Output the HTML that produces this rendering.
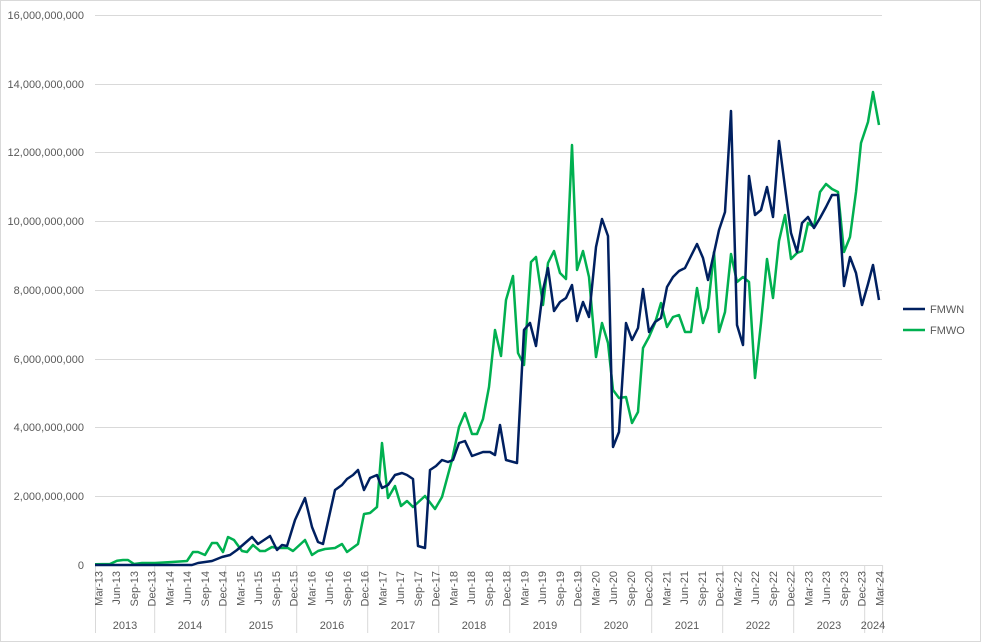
<!DOCTYPE html>
<html><head><meta charset="utf-8"><style>
html,body{margin:0;padding:0;background:#fff}
svg{display:block;font-family:"Liberation Sans",sans-serif}
</style></head><body>
<svg width="981" height="642" viewBox="0 0 981 642" xmlns="http://www.w3.org/2000/svg">
<rect x="0.5" y="0.5" width="980" height="641" fill="#fff" stroke="#d9d9d9"/>
<g stroke="#d9d9d9" stroke-width="1">
<line x1="95" x2="882" y1="15.5" y2="15.5"/><line x1="95" x2="882" y1="84.5" y2="84.5"/>
<line x1="95" x2="882" y1="152.5" y2="152.5"/><line x1="95" x2="882" y1="221.5" y2="221.5"/>
<line x1="95" x2="882" y1="290.5" y2="290.5"/><line x1="95" x2="882" y1="359.5" y2="359.5"/>
<line x1="95" x2="882" y1="427.5" y2="427.5"/><line x1="95" x2="882" y1="496.5" y2="496.5"/>
<line x1="95" x2="882" y1="565.5" y2="565.5"/>
<g id="yd">
<line x1="95.5" x2="95.5" y1="565" y2="633"/><line x1="154.7" x2="154.7" y1="565" y2="633"/>
<line x1="225.7" x2="225.7" y1="565" y2="633"/><line x1="296.7" x2="296.7" y1="565" y2="633"/>
<line x1="367.7" x2="367.7" y1="565" y2="633"/><line x1="438.7" x2="438.7" y1="565" y2="633"/>
<line x1="509.7" x2="509.7" y1="565" y2="633"/><line x1="580.7" x2="580.7" y1="565" y2="633"/>
<line x1="651.7" x2="651.7" y1="565" y2="633"/><line x1="722.7" x2="722.7" y1="565" y2="633"/>
<line x1="793.7" x2="793.7" y1="565" y2="633"/><line x1="864.7" x2="864.7" y1="565" y2="633"/>
<line x1="882.6" x2="882.6" y1="565" y2="633"/>
</g>
</g>
<g fill="#595959" font-size="11" text-anchor="end">
<text x="84" y="19">16,000,000,000</text><text x="84" y="88">14,000,000,000</text>
<text x="84" y="156">12,000,000,000</text><text x="84" y="225">10,000,000,000</text>
<text x="84" y="294">8,000,000,000</text><text x="84" y="363">6,000,000,000</text>
<text x="84" y="431">4,000,000,000</text><text x="84" y="500">2,000,000,000</text>
<text x="84" y="569">0</text>
</g>
<g fill="#595959" font-size="11" text-anchor="end" id="ml"></g>
<g fill="#595959" font-size="11" text-anchor="middle">
<text x="125" y="629">2013</text><text x="190" y="629">2014</text><text x="261" y="629">2015</text>
<text x="332" y="629">2016</text><text x="403" y="629">2017</text><text x="474" y="629">2018</text>
<text x="545" y="629">2019</text><text x="616" y="629">2020</text><text x="687" y="629">2021</text>
<text x="758" y="629">2022</text><text x="829" y="629">2023</text><text x="873" y="629">2024</text>
</g>
<polyline fill="none" stroke="#00B050" stroke-width="2.5" stroke-linejoin="round" points="95,564.3 110,564 117,560.7 123,560 128,560 134,564 142,563 155,563 172,562 187,561 193,552 198,552 205,555 212,543 217,543 223,552 228,537 234,540 242,551 247,552 253,545 260,551 265,551 272,547 277,548 288,548 293,551 305,540 312,555 318,551 325,549 335,548 342,544 347,552 358,544 364,514 370,513 377,507 382,443 388,498 395,486 401,506 407,501 413,507 425,496 435,509 442,497 452,460 459,427 465,413 472,434 477,434 483,419 489,387 495,330 501,356 506,300 513,276 518,353 524,365 531,262 536,257 543,305 548,263 554,251 560,273 566,279 572,145 577,270 583,251 589,277 596,357 602,323 608,343 613,390 619,398 626,397 632,423 638,412 643,348 649,337 655,323 661,303 667,327 673,317 679,315 685,332 691,332 697,288 703,323 708,308 714,252 719,332 725,312 731,254 737,282 743,277 749,282 755,378 761,323 767,259 773,298 779,241 785,215 791,259 797,253 802,251 808,223 814,227 820,192 826,184 832,189 838,192 844,252 850,237 856,192 861,143 868,122 873,92 879,125"/>
<polyline fill="none" stroke="#002060" stroke-width="2.5" stroke-linejoin="round" points="95,565 192,565 198,563 212,561 222,557 230,555 237,550 252,537 258,544 270,536 277,550 282,545 287,546 295,520 305,498 312,527 318,542 323,544 335,490 342,485 347,479 353,475 358,470 364,490 370,478 377,475 382,488 388,485 395,475 402,473 407,475 413,479 418,546 425,548 430,470 436,466 442,460 448,462 453,460 459,443 465,441 472,456 483,452 490,452 495,455 500,425 506,460 517,463 524,330 530,323 536,346 543,290 548,268 554,311 560,302 566,298 572,285 577,321 583,302 589,317 596,247 602,219 608,236 613,447 619,432 626,323 632,340 638,328 643,289 649,332 655,322 661,318 667,287 673,277 679,271 685,268 691,256 697,244 703,258 708,280 714,253 719,230 725,212 731,111 737,325 743,345 749,176 755,215 761,210 767,187 773,217 779,141 786,195 791,233 797,252 802,223 808,217 814,228 820,218 826,207 832,195 838,195 844,286 850,257 856,273 862,305 868,284 873,265 879,300"/>
<line x1="903" x2="925" y1="309" y2="309" stroke="#002060" stroke-width="2.5"/>
<line x1="903" x2="925" y1="330" y2="330" stroke="#00B050" stroke-width="2.5"/>
<g fill="#595959" font-size="11"><text x="930" y="313">FMWN</text><text x="930" y="334">FMWO</text></g>
<g fill="#595959" font-size="11" text-anchor="end">
<text transform="translate(102.4,571) rotate(-90)">Mar-13</text>
<text transform="translate(120.2,571) rotate(-90)">Jun-13</text>
<text transform="translate(137.9,571) rotate(-90)">Sep-13</text>
<text transform="translate(155.7,571) rotate(-90)">Dec-13</text>
<text transform="translate(173.4,571) rotate(-90)">Mar-14</text>
<text transform="translate(191.2,571) rotate(-90)">Jun-14</text>
<text transform="translate(208.9,571) rotate(-90)">Sep-14</text>
<text transform="translate(226.7,571) rotate(-90)">Dec-14</text>
<text transform="translate(244.4,571) rotate(-90)">Mar-15</text>
<text transform="translate(262.2,571) rotate(-90)">Jun-15</text>
<text transform="translate(279.9,571) rotate(-90)">Sep-15</text>
<text transform="translate(297.7,571) rotate(-90)">Dec-15</text>
<text transform="translate(315.4,571) rotate(-90)">Mar-16</text>
<text transform="translate(333.2,571) rotate(-90)">Jun-16</text>
<text transform="translate(350.9,571) rotate(-90)">Sep-16</text>
<text transform="translate(368.7,571) rotate(-90)">Dec-16</text>
<text transform="translate(386.4,571) rotate(-90)">Mar-17</text>
<text transform="translate(404.2,571) rotate(-90)">Jun-17</text>
<text transform="translate(421.9,571) rotate(-90)">Sep-17</text>
<text transform="translate(439.7,571) rotate(-90)">Dec-17</text>
<text transform="translate(457.4,571) rotate(-90)">Mar-18</text>
<text transform="translate(475.2,571) rotate(-90)">Jun-18</text>
<text transform="translate(492.9,571) rotate(-90)">Sep-18</text>
<text transform="translate(510.7,571) rotate(-90)">Dec-18</text>
<text transform="translate(528.4,571) rotate(-90)">Mar-19</text>
<text transform="translate(546.2,571) rotate(-90)">Jun-19</text>
<text transform="translate(563.9,571) rotate(-90)">Sep-19</text>
<text transform="translate(581.7,571) rotate(-90)">Dec-19</text>
<text transform="translate(599.4,571) rotate(-90)">Mar-20</text>
<text transform="translate(617.2,571) rotate(-90)">Jun-20</text>
<text transform="translate(634.9,571) rotate(-90)">Sep-20</text>
<text transform="translate(652.7,571) rotate(-90)">Dec-20</text>
<text transform="translate(670.4,571) rotate(-90)">Mar-21</text>
<text transform="translate(688.2,571) rotate(-90)">Jun-21</text>
<text transform="translate(705.9,571) rotate(-90)">Sep-21</text>
<text transform="translate(723.7,571) rotate(-90)">Dec-21</text>
<text transform="translate(741.4,571) rotate(-90)">Mar-22</text>
<text transform="translate(759.2,571) rotate(-90)">Jun-22</text>
<text transform="translate(776.9,571) rotate(-90)">Sep-22</text>
<text transform="translate(794.7,571) rotate(-90)">Dec-22</text>
<text transform="translate(812.4,571) rotate(-90)">Mar-23</text>
<text transform="translate(830.2,571) rotate(-90)">Jun-23</text>
<text transform="translate(847.9,571) rotate(-90)">Sep-23</text>
<text transform="translate(865.7,571) rotate(-90)">Dec-23</text>
<text transform="translate(883.4,571) rotate(-90)">Mar-24</text>
</g>
</svg>
</body></html>
